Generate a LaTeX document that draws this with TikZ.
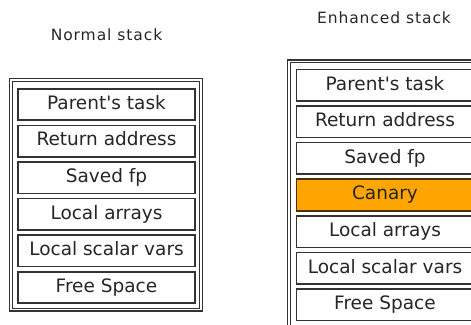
\documentclass[tikz,border=0pt]{standalone}
\usepackage{fontspec}
\setmainfont{DejaVu Sans}
\usetikzlibrary{positioning}

\definecolor{ink}{HTML}{333333}
\definecolor{txt}{HTML}{262626}
\definecolor{canaryfill}{HTML}{FFA500}
\definecolor{canaryline}{HTML}{4A3000}

\tikzset{
  frameline/.style={draw=ink, line width=1.1pt, double=white, double distance=1.6pt},
  cell/.style={draw=ink, line width=1.6pt, fill=white, text=txt,
    minimum width=177pt, minimum height=31.5pt, inner sep=0pt,
    text height=13.4pt, text depth=3.8pt,
    font=\fontsize{18.5}{20}\selectfont},
  canarycell/.style={cell, fill=canaryfill, draw=canaryline},
  title/.style={anchor=base, text=txt, inner sep=0pt,
    font=\fontsize{15.5}{18}\addfontfeatures{LetterSpace=6}\selectfont},
}

\begin{document}
\begin{tikzpicture}[x=1pt, y=-1pt]
\useasboundingbox (0,0) rectangle (471,324);
\clip (0,0) rectangle (471,324);

% Normal stack
\node[title] (tl) at (106.5,40) {Normal stack};
\foreach \name/\lab [count=\i from 0] in {L1/Parent\textquotesingle s task,
    L2/Return address, L3/Saved fp, L4/Local arrays,
    L5/Local scalar vars, L6/Free Space}
  \node[cell] (\name) at (106.5,104.5+36.6*\i) {\lab};
\draw[frameline] ([xshift=-6.5pt,yshift=7.8pt]L1.north west)
  rectangle ([xshift=5.3pt,yshift=-5.6pt]L6.south east);

% Enhanced stack
\node[title] (tr) at (384,23.3) {Enhanced stack};
\node[cell] (R1) at (385,85.2) {Parent\textquotesingle s task};
\node[cell] (R2) at (385,121.8) {Return address};
\node[cell] (R3) at (385,158.4) {Saved fp};
\node[canarycell] (R4) at (385,195.0) {Canary};
\node[cell] (R5) at (385,231.6) {Local arrays};
\node[cell] (R6) at (385,268.2) {Local scalar vars};
\node[cell] (R7) at (385,304.8) {Free Space};
\draw[frameline] ([xshift=-6.8pt,yshift=7.3pt]R1.north west)
  rectangle ([xshift=5.3pt,yshift=-5.6pt]R7.south east);
\end{tikzpicture}
\end{document}
